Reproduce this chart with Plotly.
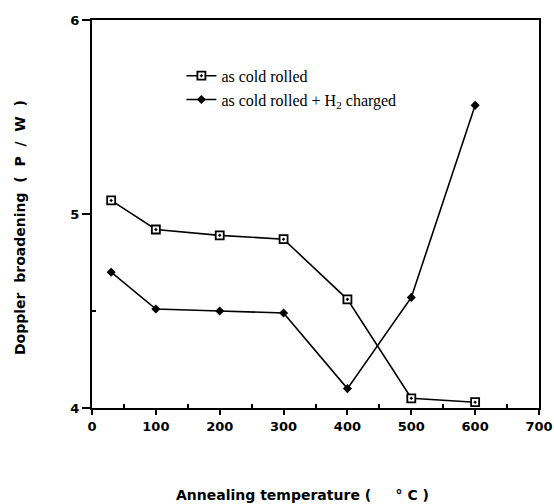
import plotly.graph_objects as go

temps = [30, 100, 200, 300, 400, 500, 600]
cold_rolled = [5.07, 4.92, 4.89, 4.87, 4.56, 4.05, 4.03]
cold_rolled_h2 = [4.70, 4.51, 4.50, 4.49, 4.10, 4.57, 5.56]

fig = go.Figure()
fig.add_trace(go.Scatter(
    x=temps, y=cold_rolled, mode="lines+markers", name="as cold rolled",
    line=dict(color="black", width=1.6),
    marker=dict(symbol="square-dot", size=8, color="white", line=dict(color="black", width=1.8)),
))
fig.add_trace(go.Scatter(
    x=temps, y=cold_rolled_h2, mode="lines+markers", name="as cold rolled + H<sub>2</sub> charged",
    line=dict(color="black", width=1.6),
    marker=dict(symbol="diamond", size=7, color="black"),
))

fig.update_layout(
    width=554, height=504,
    margin=dict(l=92, r=15, t=20, b=96, autoexpand=False),
    paper_bgcolor="white", plot_bgcolor="white",
    showlegend=True,
    legend=dict(x=0.2, y=0.9, xanchor="left", yanchor="top",
                font=dict(family="Liberation Serif", size=16, color="black"),
                bgcolor="rgba(0,0,0,0)", tracegroupgap=0),
    xaxis=dict(range=[0, 700], tickvals=[0, 100, 200, 300, 400, 500, 600, 700], automargin=False,
               showgrid=False, zeroline=False, showline=True, linecolor="black", linewidth=2,
               mirror=True, ticks="outside", ticklen=5, tickcolor="black", tickwidth=2,
               tickfont=dict(family="DejaVu Sans", size=13, color="black", weight="bold"),
               minor=dict(tickvals=[50, 150, 250, 350, 450, 550, 650], ticks="inside", ticklen=4, tickcolor="black")),
    yaxis=dict(range=[4, 6], tickvals=[4, 5, 6], automargin=False,
               showgrid=False, zeroline=False, showline=True, linecolor="black", linewidth=2,
               mirror=True, ticks="outside", ticklen=8, tickcolor="black", tickwidth=2,
               tickfont=dict(family="DejaVu Sans", size=13, color="black", weight="bold"),
               minor=dict(tickvals=[4.5], ticks="inside", ticklen=4, tickcolor="black")),
)

fig.add_annotation(text="Annealing temperature (     ° C )", xref="paper", yref="paper",
                   x=0.47, y=-0.225, xanchor="center", yanchor="middle", showarrow=False,
                   font=dict(family="DejaVu Sans", size=14, color="black", weight="bold"))
fig.add_annotation(text="Doppler  broadening  (  P  /  W  )", xref="paper", yref="paper",
                   x=-0.161, y=0.464, xanchor="center", yanchor="middle", showarrow=False, textangle=-90,
                   font=dict(family="DejaVu Sans", size=14, color="black", weight="bold"))

fig.write_html("out.html")
